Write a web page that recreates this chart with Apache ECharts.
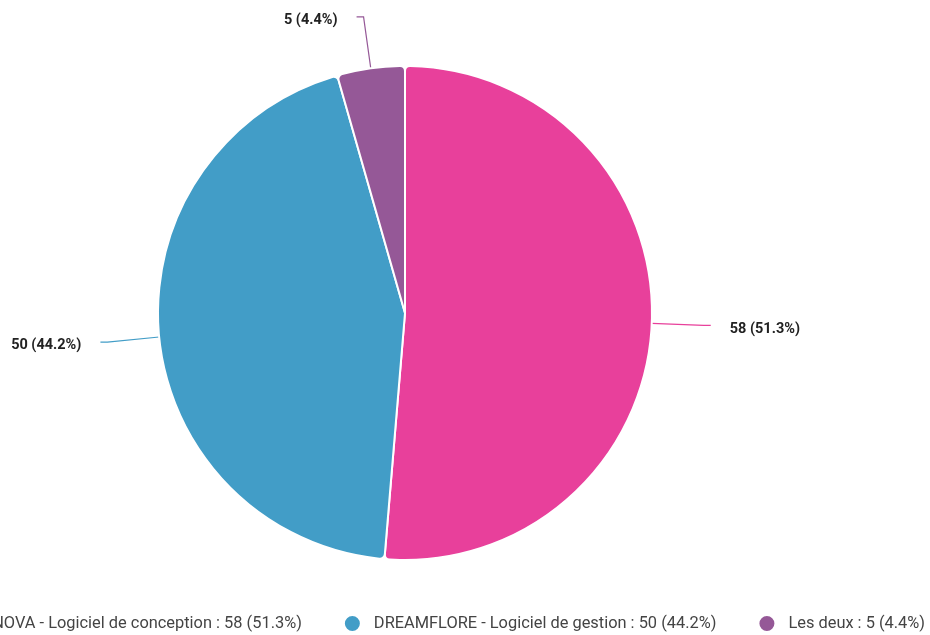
<!DOCTYPE html>
<html>
<head>
<meta charset="utf-8">
<script src="https://cdn.jsdelivr.net/npm/echarts@6/dist/echarts.min.js"></script>
<style>
html,body{margin:0;padding:0;background:#fff;}
#chart{width:930px;height:635px;}
</style>
</head>
<body>
<div id="chart"></div>
<script>
var categories = ['INNOVA - Logiciel de conception', 'DREAMFLORE - Logiciel de gestion', 'Les deux'];
var values = [58, 50, 5];
var colors = ['#E8409B', '#429DC7', '#955897'];

var total = values.reduce(function (a, b) { return a + b; }, 0);
function pct(v) { return (v / total * 100).toFixed(1); }
var data = categories.map(function (c, i) {
  return { name: c, value: values[i], itemStyle: { color: colors[i] } };
});

var chart = echarts.init(document.getElementById('chart'));
chart.setOption({
  animation: false,
  legend: {
    bottom: -3,
    right: 0,
    width: 3000,
    orient: 'horizontal',
    icon: 'circle',
    itemWidth: 17,
    itemHeight: 17,
    itemGap: 41,
    textStyle: { fontFamily: 'Roboto', fontSize: 16.4, color: '#444', padding: [0, 0, 0, 8] },
    formatter: function (name) {
      var i = categories.indexOf(name);
      return name + ' : ' + values[i] + ' (' + pct(values[i]) + '%)';
    }
  },
  series: [{
    type: 'pie',
    center: [405, 313],
    radius: [0, 247],
    startAngle: 90,
    clockwise: true,
    avoidLabelOverlap: false,
    itemStyle: { borderColor: '#fff', borderWidth: 2, borderRadius: 5 },
    label: {
      show: true,
      formatter: function (p) { return '{s|}\n{a|' + p.value + ' (' + pct(p.value) + '%)}'; },
      rich: {
        s: { height: 7, lineHeight: 7, fontSize: 1 },
        a: { fontFamily: 'Roboto', fontSize: 14.5, fontWeight: 'bold', color: '#222', lineHeight: 18 }
      },
      fontFamily: 'Roboto',
      fontSize: 14.5,
      fontWeight: 'bold',
      color: '#222',
      distanceToLabelLine: 19
    },
    labelLine: { show: true, length: 52, length2: 7, lineStyle: { width: 1.2 } },
    emphasis: { disabled: true },
    data: data
  }]
});
</script>
</body>
</html>
